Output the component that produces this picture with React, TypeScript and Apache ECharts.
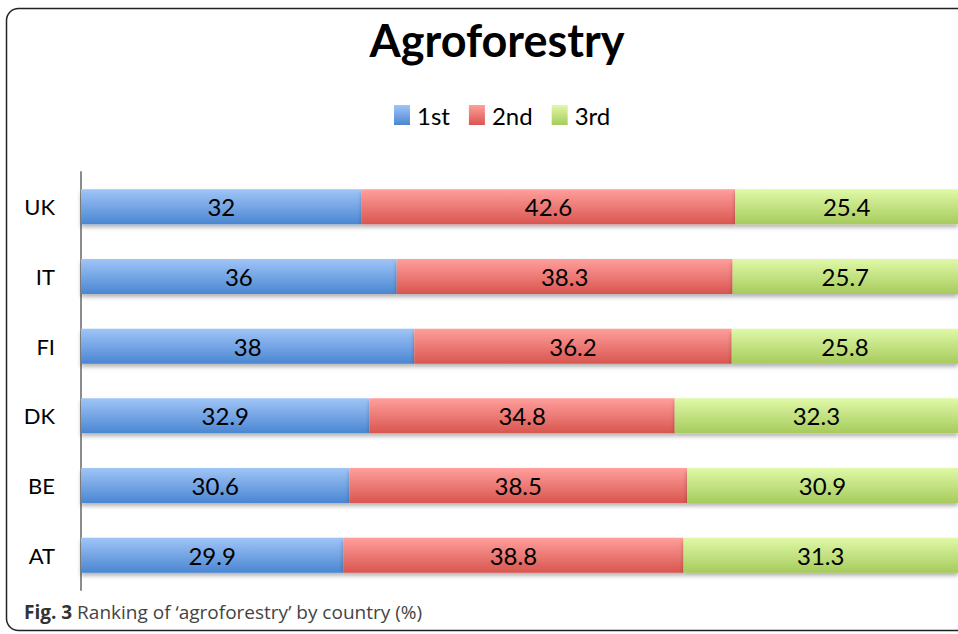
import React, { useEffect, useRef } from "react";
import * as echarts from "echarts";

const countries = ["AT", "BE", "DK", "FI", "IT", "UK"];
const first = [29.9, 30.6, 32.9, 38, 36, 32];
const second = [38.8, 38.5, 34.8, 36.2, 38.3, 42.6];
const third = [31.3, 30.9, 32.3, 25.8, 25.7, 25.4];
const seriesNames = ["1st", "2nd", "3rd"];

const grad = (top: string, bottom: string) =>
  new echarts.graphic.LinearGradient(0, 0, 0, 1, [
    { offset: 0, color: top },
    { offset: 1, color: bottom },
  ]);

const palette = [
  ["#a0c5f7", "#4a86d2"],
  ["#ff9f9c", "#d9554f"],
  ["#e0f9a8", "#a6cb5c"],
];

const labelFont = "Lato, 'Open Sans', sans-serif";

export default function App() {
  const ref = useRef<HTMLDivElement>(null);
  useEffect(() => {
    document.body.style.margin = "0";
    const chart = echarts.init(ref.current!, null, { renderer: "svg" });
    const data = [first, second, third];
    chart.setOption({
      animation: false,
      backgroundColor: "#ffffff",
      title: {
        text: "Agroforestry",
        left: 492,
        textAlign: "center",
        top: 12,
        textStyle: {
          fontFamily: labelFont,
          fontWeight: "bold",
          fontSize: 45,
          color: "#000",
        },
      },
      legend: {
        data: seriesNames,
        left: 389,
        top: 98,
        itemWidth: 16,
        itemHeight: 20,
        itemGap: 19,
        icon: "rect",
        textStyle: { fontFamily: labelFont, fontSize: 24, color: "#000", padding: [0, 0, 0, 2] },
      },
      grid: { left: 81, right: 0, top: 172, bottom: 44, containLabel: false },
      xAxis: {
        type: "value",
        min: 0,
        max: 100,
        show: false,
      },
      yAxis: {
        type: "category",
        data: countries,
        axisLine: { show: true, lineStyle: { color: "#8c8c8c", width: 2 } },
        axisTick: { show: false },
        axisLabel: {
          fontFamily: labelFont,
          fontSize: 22,
          color: "#000",
          margin: 26,
        },
      },
      series: seriesNames.map((name, i) => ({
        name,
        type: "bar",
        stack: "total",
        barWidth: 35,
        data: data[i],
        itemStyle: {
          color: grad(palette[i][0], palette[i][1]),
          shadowColor: "rgba(0,0,0,0.3)",
          shadowBlur: 4,
          shadowOffsetY: 3,
        },
        label: {
          show: true,
          position: "inside",
          fontFamily: labelFont,
          fontSize: 24,
          color: "#000",
          formatter: (p: any) => String(p.value),
        },
      })),
      graphic: [
        {
          type: "rect",
          shape: { x: 6.5, y: 8.5, width: 1000, height: 622, r: 12 },
          style: { fill: "none", stroke: "#222", lineWidth: 1.5 },
          z: 100,
          silent: true,
        },
        {
          type: "text",
          x: 24,
          y: 602,
          style: {
            text: "{b|Fig. 3} Ranking of \u2018agroforestry\u2019 by country (%)",
            fontFamily: "'Open Sans', sans-serif",
            fontSize: 19,
            fill: "#444",
            rich: {
              b: {
                fontFamily: "'Open Sans', sans-serif",
                fontSize: 19,
                fontWeight: "bold",
                fill: "#333",
              },
            },
          },
          z: 100,
        },
      ],
    });
    return () => chart.dispose();
  }, []);
  return <div ref={ref} style={{ width: 958, height: 634 }} />;
}
